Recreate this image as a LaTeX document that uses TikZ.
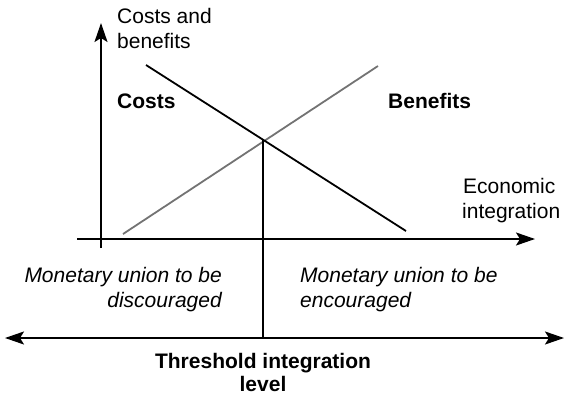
\documentclass[tikz,border=0pt]{standalone}
\usepackage{fontspec}
\setmainfont{Liberation Sans}
\usetikzlibrary{arrows.meta}
\begin{document}
\begin{tikzpicture}[x=1pt,y=-1pt,
  ax/.style={line width=1.8pt,black},
  tiph/.tip={Stealth[length=19pt,width=13pt,inset=4pt]},
  txt/.style={inner sep=0pt,font=\fontsize{21}{25}\selectfont},
  btxt/.style={txt,font=\fontsize{21}{25}\selectfont\bfseries},
  itxt/.style={txt,font=\fontsize{21}{25}\selectfont\itshape}]
\useasboundingbox (0,0) rectangle (565,397);
% coordinates
\coordinate (yb) at (101,248);
\coordinate (yt) at (101,23);
\coordinate (xl) at (77,239);
\coordinate (xr) at (535,239);
\coordinate (c1) at (146,65);
\coordinate (c2) at (406,231);
\coordinate (b1) at (123,234);
\coordinate (b2) at (378,66);
\coordinate (th) at (263,140);
\coordinate (tb) at (263,338);
\coordinate (dl) at (5,338);
\coordinate (dr) at (564,338);
% axes
\draw[ax,-tiph] (yb) -- (yt);
\draw[ax,-tiph] (xl) -- (xr);
% lines
\draw[line width=1.8pt,black!55] (b1) -- (b2);
\draw[line width=1.8pt] (c1) -- (c2);
\draw[line width=1.8pt] (th) -- (tb);
\draw[ax,tiph-tiph] (dl) -- (dr);
% texts
\node[txt,anchor=base west] (t1) at (117,23) {Costs and};
\node[txt,anchor=base west] (t2) at (117,48) {benefits};
\node[btxt,anchor=base west] (cst) at (117,108) {Costs};
\node[btxt,anchor=base west] (bnf) at (388,108) {Benefits};
\node[txt,anchor=base west] (e1) at (463,193) {Economic};
\node[txt,anchor=base west] (e2) at (462,218) {integration};
\node[itxt,anchor=base east] (d1) at (222,282) {Monetary union to be};
\node[itxt,anchor=base east] (d2) at (222,307) {discouraged};
\node[itxt,anchor=base west] (n1) at (300,282) {Monetary union to be};
\node[itxt,anchor=base west] (n2) at (300,307) {encouraged};
\node[btxt,anchor=base] (l1) at (263,368) {Threshold integration};
\node[btxt,anchor=base] (l2) at (263,391) {level};
\end{tikzpicture}
\end{document}
